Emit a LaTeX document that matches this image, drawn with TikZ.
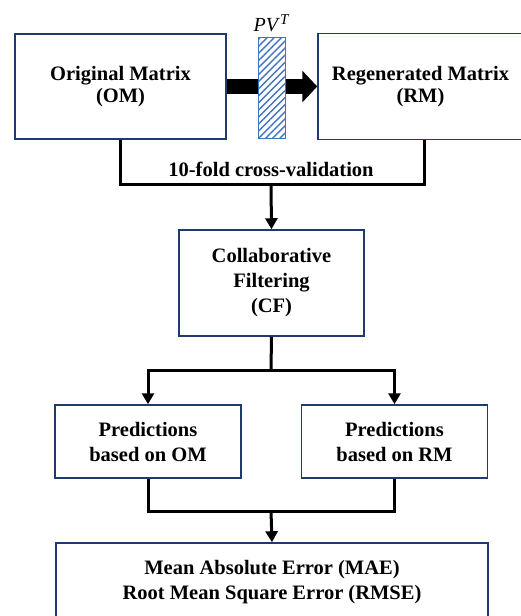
\documentclass[tikz,border=0pt]{standalone}
\usepackage{fontspec}
\setmainfont{Liberation Serif}
\usepackage{xcolor}
\usepackage{tikz}
\usetikzlibrary{arrows.meta,patterns.meta}
\definecolor{navy}{HTML}{1F3A6E}
\definecolor{hatch}{HTML}{4472C4}
\tikzset{box/.style={rectangle,draw=navy,line width=1.5pt,align=center,font=\fontsize{20.5}{25}\selectfont\bfseries,inner sep=0pt}}
\tikzset{topbox/.style={box,font=\fontsize{20.5}{22}\selectfont\bfseries}}
\tikzset{link/.style={line width=3pt,-{Triangle[length=11pt,width=12pt]}}}
\tikzset{wire/.style={line width=3pt}}

\begin{document}
\begin{tikzpicture}[x=1pt,y=-1pt]
    \useasboundingbox (0,0) rectangle (520,616);
    \node[topbox,minimum width=211pt,minimum height=105pt] (om)at (120.5,86.5) {Original Matrix\\(OM)};
    \node[topbox,minimum width=205pt,minimum height=106pt] (rm)at (420.5,86.5) {Regenerated Matrix\\(RM)};
    \node[box,minimum width=185pt,minimum height=106pt] (cf)at (271.5,283) {Collaborative\\Filtering\\(CF)};
    \node[box,minimum width=186pt,minimum height=73pt] (pom)at (148,441.5) {Predictions\\based on OM};
    \node[box,minimum width=186pt,minimum height=73pt] (prm)at (394.5,441.5) {Predictions\\based on RM};
    \node[box,minimum width=432pt,minimum height=78pt] (err)at (272,582) {Mean Absolute Error (MAE)\\Root Mean Square Error (RMSE)};

    \coordinate (j1)at (271,184);
    \coordinate (j2)at (271,370);
    \coordinate (j3)at (271,511);

    % transform between the two matrices
    \draw [line width=15pt,-{Triangle[length=15pt,width=31pt]}] (om) to (rm);
    \node[rectangle,draw=hatch,line width=1pt,fill=white,minimum width=27pt,minimum height=101pt,
          postaction={pattern={Lines[angle=45,distance=5pt,line width=1.4pt]},pattern color=hatch}] (pv)at (271.5,87.5) {};
    \node[font=\fontsize{20}{20}\selectfont] (pvl)at (pv.north) [anchor=south,yshift=1pt] {\textit{PV}\raisebox{7pt}{\fontsize{15}{15}\selectfont\textit{T}}};

    \draw [wire] (om.south) |- (j1) -| ([xshift=4pt]rm.south);
    \node[font=\fontsize{20.5}{22}\selectfont\bfseries] (cv)at (271,169) {10-fold cross-validation};
    \draw [link] (j1) to (cf.north);
    \draw [wire] (cf.south) to (j2);
    \draw [link] (j2) -| (pom.north);
    \draw [link] (j2) -| (prm.north);
    \draw [wire] (pom.south) |- (j3);
    \draw [wire] (prm.south) |- (j3);
    \draw [link] (j3) to (err.north);
\end{tikzpicture}
\end{document}
